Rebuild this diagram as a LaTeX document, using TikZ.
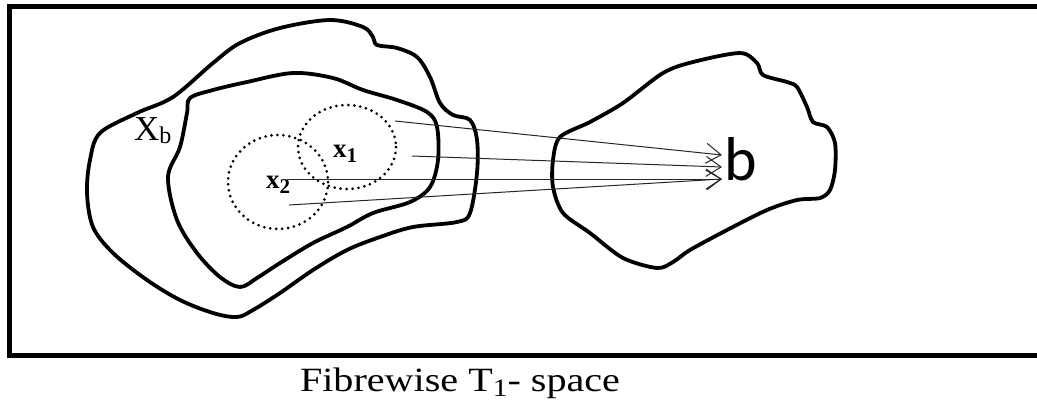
\documentclass[tikz,border=0pt]{standalone}
\usepackage{fontspec}
\setmainfont{Liberation Serif}
\newfontfamily\calib{Carlito}
\usetikzlibrary{arrows.meta}
\begin{document}
\begin{tikzpicture}[x=1pt,y=-1pt,
  blob/.style={line width=3.8pt, line join=round},
  ray/.style={line width=1pt, draw=black!85,
    -{Straight Barb[length=15pt,width=20pt,line width=1pt]}},
  nbhd/.style={line width=3pt, dash pattern=on 0pt off 6pt, line cap=round},
  lbl/.style={inner sep=0pt, anchor=base west}]
\useasboundingbox (0,0) rectangle (1037,408);

% frame
\draw[line width=5pt] (1045,6) -- (9.5,6) -- (9.5,355.5) -- (1045,355.5);

% the total space (outer region)
\draw[blob] plot[smooth cycle, tension=0.55] coordinates {
  (100,133) (137,113) (173,97) (213,63) (240,43) (280,28) (330,20)
  (363,27) (373,37) (377,45) (397,48) (417,57) (430,77) (440,103)
  (453,115) (470,120) (477,140) (477,173) (470,213) (457,222)
  (413,227) (380,237) (347,250) (313,270) (280,293) (253,310)
  (237,317) (213,313) (180,300) (147,280) (113,253) (93,227)
  (87,193) (90,160)};

% the fibre X_b
\draw[blob] plot[smooth cycle, tension=0.55] coordinates {
  (190,98) (213,90) (247,82) (293,73) (333,78) (363,90) (397,100)
  (427,112) (437,127) (438,160) (430,187) (410,202) (373,213)
  (347,227) (313,243) (280,263) (257,278) (240,287) (220,277)
  (197,253) (177,220) (168,177) (180,147) (187,113)};

% the base
\draw[blob] plot[smooth cycle, tension=0.5] coordinates {
  (560,137) (590,122) (623,103) (663,73) (693,62) (740,53) (757,63)
  (763,75) (787,82) (797,87) (807,107) (813,122) (827,127) (835,143)
  (835,170) (830,190) (820,198) (797,200) (767,210) (727,230)
  (690,250) (673,262) (657,268) (623,258) (590,233) (563,213)
  (553,187) (553,160)};

% neighbourhoods of x1 and x2
\draw[nbhd] (347,147) ellipse [x radius=49, y radius=42];
\draw[nbhd] (278,182) ellipse [x radius=50, y radius=47];

% labels
\node[lbl] (Xb) at (134,140) {\fontsize{35}{35}\selectfont X\raisebox{-3pt}{\fontsize{24}{24}\selectfont b}};
\node[lbl] (x1) at (333,157) {\fontsize{27}{27}\selectfont\bfseries x\raisebox{-5pt}{\fontsize{21}{21}\selectfont 1}};
\node[lbl] (x2) at (266,188) {\fontsize{27}{27}\selectfont\bfseries x\raisebox{-5pt}{\fontsize{21}{21}\selectfont 2}};
\node[lbl] (b) at (724,180) {\calib\fontsize{62}{62}\selectfont b};

% projection rays
\coordinate (s1) at (395,121);
\coordinate (s2) at (412,156);
\coordinate (s3) at (287,179);
\coordinate (s4) at (289,205);
\coordinate (t1) at (722,155);
\coordinate (t2) at (722,167);
\coordinate (t3) at (722,179);
\draw[ray] (s1) -- (t1);
\draw[ray] (s2) -- (t2);
\draw[ray] (s3) -- (t3);
\draw[ray] (s4) -- (t3);

% caption
\node[inner sep=0pt, anchor=base] (cap) at (460,391)
  {\scalebox{1.18}[1]{\fontsize{34}{34}\selectfont Fibrewise T\raisebox{-5pt}{\fontsize{25}{25}\selectfont 1}- space}};
\end{tikzpicture}
\end{document}
